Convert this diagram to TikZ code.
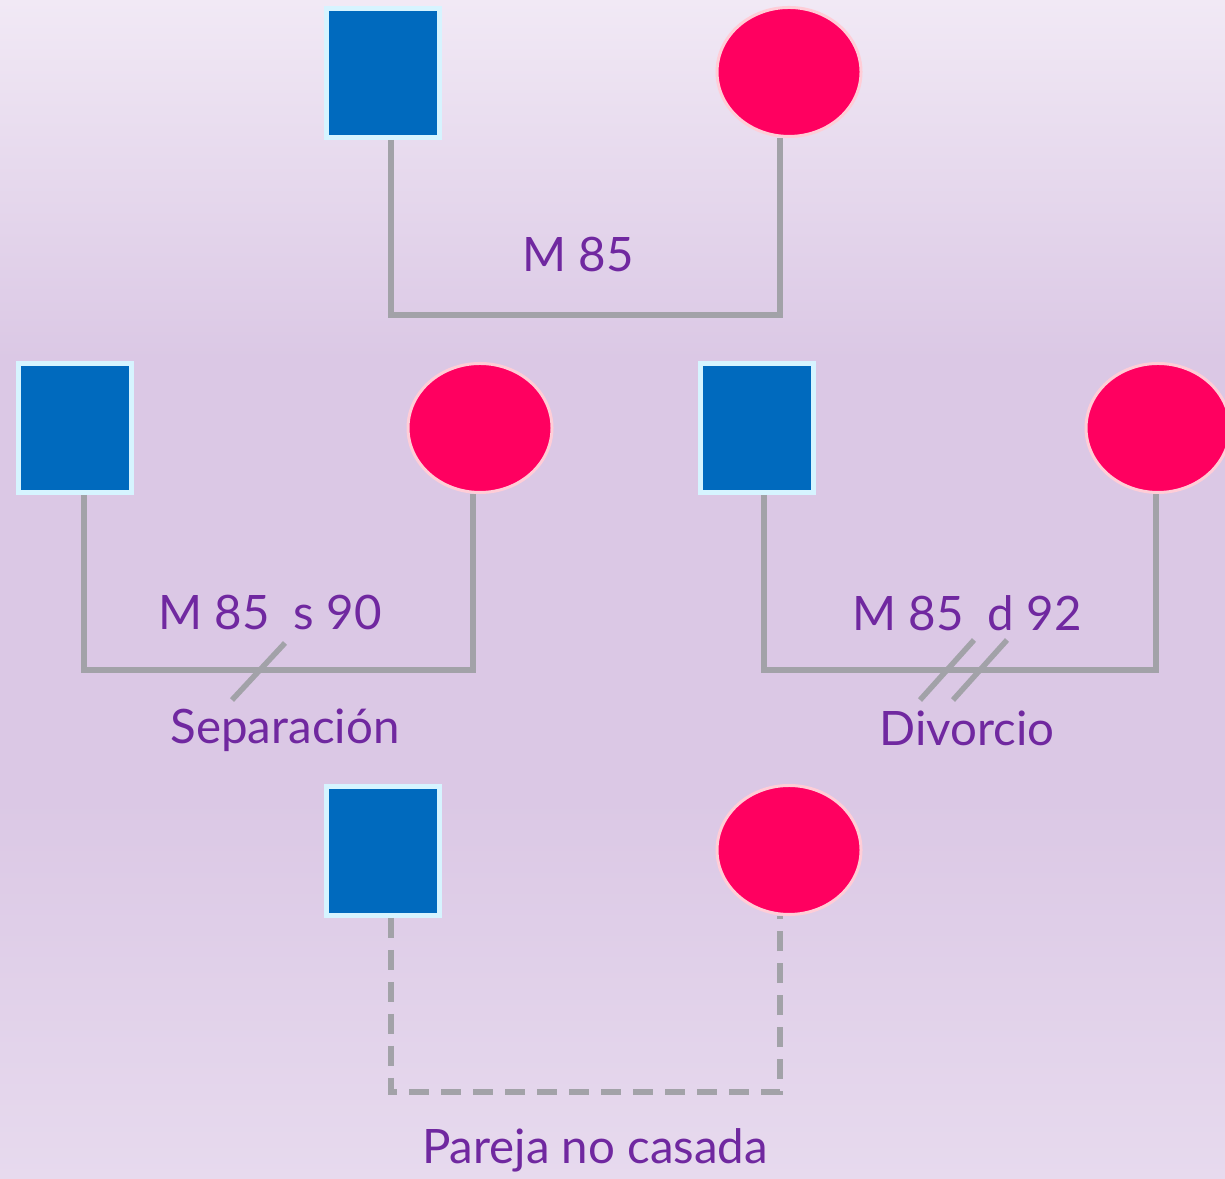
\documentclass[tikz,border=0pt]{standalone}
\usepackage{fontspec}
\setmainfont{Lato}
\usetikzlibrary{shapes.geometric}

\definecolor{bgtop}{RGB}{241,233,245}
\definecolor{bgmid}{RGB}{219,200,229}
\definecolor{bgbot}{RGB}{231,218,238}
\definecolor{maleblue}{RGB}{0,106,190}
\definecolor{maleedge}{RGB}{214,244,255}
\definecolor{femalepink}{RGB}{255,0,96}
\definecolor{femaleedge}{RGB}{255,205,215}
\definecolor{tiegray}{RGB}{162,162,168}
\definecolor{lblpurple}{RGB}{112,40,160}

\tikzset{
    male/.style={draw=maleedge, fill=maleblue, line width=0.05cm, inner sep=0,
        minimum width=1.13cm, minimum height=1.29cm},
    female/.style={ellipse, draw=femaleedge, fill=femalepink, line width=0.03cm, inner sep=0,
        minimum width=1.44cm, minimum height=1.29cm},
    tie/.style={draw=tiegray, line width=0.055cm},
    looseTie/.style={tie, dash pattern=on 0.2cm off 0.12cm},
    lbl/.style={text=lblpurple, font=\fontsize{13.5}{16}\selectfont, inner sep=0}
}

\begin{document}
\begin{tikzpicture}
        
        % Background:
        \useasboundingbox (0, 0) rectangle (12.25, 11.79);
        \shade[top color=bgtop, bottom color=bgmid] (0, 8.2) rectangle (12.25, 11.79);
        \fill[bgmid] (0, 3.8) rectangle (12.25, 8.21);
        \shade[top color=bgmid, bottom color=bgbot] (0, 0) rectangle (12.25, 3.81);
        
        % Married couple:
        \node[male] (h1) at (3.83, 11.06) {};
        \node[female] (w1) at (7.89, 11.07) {};
        \coordinate (b1) at (5.8, 8.64);
        \draw[tie] ([xshift=0.08cm]h1.south) |- (b1) -| ([xshift=-0.09cm]w1.south);
        \node[lbl] (m1) at (5.78, 9.24) {M 85};
        
        % Separated couple:
        \node[male] (h2) at (0.75, 7.51) {};
        \node[female] (w2) at (4.80, 7.51) {};
        \coordinate (b2) at (2.8, 5.09);
        \draw[tie] ([xshift=0.09cm]h2.south) |- (b2) -| ([xshift=-0.07cm]w2.south);
        \draw[tie] (2.32, 4.79) -- (2.85, 5.36);
        \node[lbl] (m2) at (2.70, 5.66) {M 85\ \ s 90};
        \node[lbl] (s2) at (2.85, 4.49) {Separación};
        
        % Divorced couple:
        \node[male] (h3) at (7.57, 7.51) {};
        \node[female] (w3) at (11.58, 7.51) {};
        \coordinate (b3) at (9.6, 5.09);
        \draw[tie] ([xshift=0.07cm]h3.south) |- (b3) -| ([xshift=-0.02cm]w3.south);
        \draw[tie] (9.20, 4.79) -- (9.74, 5.39);
        \draw[tie] (9.53, 4.79) -- (10.07, 5.39);
        \node[lbl] (m3) at (9.67, 5.66) {M 85\ \ d 92};
        \node[lbl] (s3) at (9.67, 4.51) {Divorcio};
        
        % Unmarried couple:
        \node[male] (h4) at (3.83, 3.28) {};
        \node[female] (w4) at (7.89, 3.29) {};
        \coordinate (b4) at (5.8, 0.87);
        \draw[looseTie] ([xshift=0.08cm]h4.south) |- (b4) -| ([xshift=-0.09cm]w4.south);
        \node[lbl] (s4) at (5.95, 0.29) {Pareja no casada};
    \end{tikzpicture}
\end{document}
